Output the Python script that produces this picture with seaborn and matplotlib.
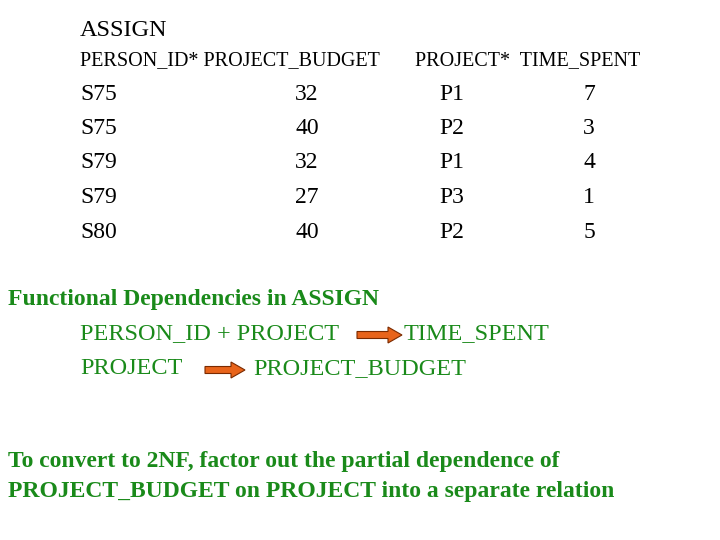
import matplotlib
matplotlib.use("Agg")
import matplotlib.pyplot as plt
import seaborn as sns
from matplotlib.patches import FancyArrow

sns.set_theme(style="white")
plt.rcParams['font.family'] = ['Liberation Serif', 'DejaVu Serif']
plt.rcParams['text.color'] = 'black'

title = "ASSIGN"
headers = ["PERSON_ID*", "PROJECT_BUDGET", "PROJECT*", "TIME_SPENT"]
person_ids = ["S75", "S75", "S79", "S79", "S80"]
budgets = [32, 40, 32, 27, 40]
projects = ["P1", "P2", "P1", "P3", "P2"]
time_spent = [7, 3, 4, 1, 5]

fd_title = "Functional Dependencies in ASSIGN"
fd1 = ("PERSON_ID + PROJECT", "TIME_SPENT")
fd2 = ("PROJECT", "PROJECT_BUDGET")
note = ["To convert to 2NF, factor out the partial dependence of",
        "PROJECT_BUDGET on PROJECT into a separate relation"]

green = "#1a8a1a"
fig = plt.figure(figsize=(7.2, 5.4), dpi=100)
ax = fig.add_axes([0, 0, 1, 1])
ax.set_xlim(0, 720); ax.set_ylim(540, 0); ax.axis("off")

ax.text(80, 31, title, fontsize=17.5, va="center", color="black")
ax.text(80, 61, headers[0] + " " + headers[1], fontsize=14.5, va="center", color="black")
ax.text(415, 61, headers[2] + "  " + headers[3], fontsize=14.5, va="center", color="black")
for i in range(5):
    y = 94 + i * 34.5
    ax.text(80, y, person_ids[i], fontsize=17, va="center", color="black")
    ax.text(307, y, str(budgets[i]), fontsize=17, va="center", ha="center", color="black")
    ax.text(452, y, projects[i], fontsize=17, va="center", ha="center", color="black")
    ax.text(589, y, str(time_spent[i]), fontsize=17, va="center", ha="center", color="black")

ax.text(8, 300, fd_title, fontsize=17, va="center", color=green, fontweight="bold")
ax.text(80, 334, fd1[0], fontsize=17.5, va="center", color=green)
ax.text(404, 334, fd1[1], fontsize=17.5, va="center", color=green)
ax.text(80, 369, fd2[0], fontsize=17.5, va="center", color=green)
ax.text(253, 369, fd2[1], fontsize=17.5, va="center", color=green)

for x0, x1, y in [(357, 402, 335), (205, 245, 370)]:
    ax.add_patch(FancyArrow(x0, y, x1 - x0 - 14, 0, width=7, head_width=16,
                            head_length=14, length_includes_head=False,
                            facecolor="#e8641b", edgecolor="#7a2a00", linewidth=0.8))

for i, line in enumerate(note):
    ax.text(8, 461 + i * 30, line, fontsize=17, va="center", color=green, fontweight="bold")

fig.savefig("out.png", dpi=100)
